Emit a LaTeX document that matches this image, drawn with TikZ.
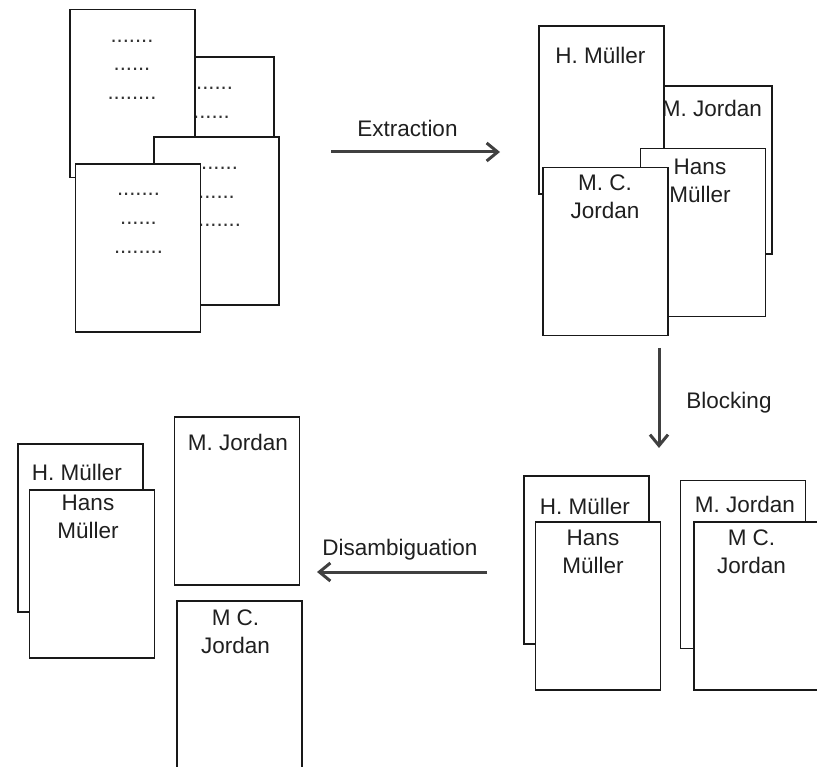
\documentclass[tikz,border=0pt]{standalone}
\usepackage{fontspec}
\setmainfont{Liberation Sans}
\usetikzlibrary{arrows.meta}
\usetikzlibrary{positioning}

\tikzset{
  page/.style={draw=black!90, line width=1.4pt, fill=white, minimum width=125pt, minimum height=168pt, inner sep=0pt, outer sep=0pt},
  txt/.style={font=\fontsize{22.5}{28}\selectfont, text=black!88, inner sep=0pt, anchor=base, align=center},
  dotrow/.style={font=\fontsize{22}{28}\selectfont, text=black!80, inner sep=0pt, anchor=base},
  flow/.style={draw=black!75, line width=3pt, -{Straight Barb[length=11pt,width=18pt]}},
}

\begin{document}
\begin{tikzpicture}[x=1pt, y=-1pt]
    \useasboundingbox (0,0) rectangle (817,767);
    \clip (0,0) rectangle (817,767);

    % raw documents
    \node[page] (rawB) at (211.5,141) {};
    \node[dotrow] (rawB1) at (211.5,90) {.......};
    \node[dotrow] (rawB2) at (211.5,118.5) {......};
    \node[page] (rawA) at (132.5,93.5) {};
    \node[dotrow] (rawA1) at (132,42.5) {.......};
    \node[dotrow] (rawA2) at (132,71) {......};
    \node[dotrow] (rawA3) at (132,99.5) {........};
    \node[page] (rawC) at (216.5,221) {};
    \node[dotrow] (rawC1) at (216.5,170) {.......};
    \node[dotrow] (rawC2) at (216.5,198.5) {......};
    \node[dotrow] (rawC3) at (216.5,227) {........};
    \node[page] (rawD) at (138,248) {};
    \node[dotrow] (rawD1) at (138.5,196) {.......};
    \node[dotrow] (rawD2) at (138.5,224.5) {......};
    \node[dotrow] (rawD3) at (138.5,253.5) {........};

    % extracted names
    \node[page] (extMJ) at (709.5,170) {};
    \node[txt] (extMJt) at (712,117) {M. Jordan};
    \node[page] (extHM) at (601.5,110) {};
    \node[txt] (extHMt) at (600.5,64) {H. Müller};
    \node[page] (extHans) at (703,232.5) {};
    \node[txt] (extHanst) at (700,203) {Hans\\Müller};
    \node[page] (extMCJ) at (605.5,251.5) {};
    \node[txt] (extMCJt) at (605,218.5) {M. C.\\Jordan};

    % blocks
    \node[page] (blkHM) at (586.5,560) {};
    \node[txt] (blkHMt) at (585,514) {H. Müller};
    \node[page] (blkHans) at (598,606) {};
    \node[txt] (blkHanst) at (593,573) {Hans\\Müller};
    \node[page] (blkMJ) at (743,564.5) {};
    \node[txt] (blkMJt) at (745,512) {M. Jordan};
    \node[page] (blkMCJ) at (756.5,606) {};
    \node[txt] (blkMCJt) at (751.5,573) {M C.\\Jordan};

    % disambiguated
    \node[page] (disHM) at (80.5,528) {};
    \node[txt] (disHMt) at (77,480) {H. Müller};
    \node[page] (disHans) at (92,574) {};
    \node[txt] (disHanst) at (88,538) {Hans\\Müller};
    \node[page] (disMJ) at (237,501) {};
    \node[txt] (disMJt) at (238,450) {M. Jordan};
    \node[page] (disMCJ) at (239.5,685) {};
    \node[txt] (disMCJt) at (235.5,653) {M C.\\Jordan};

    % steps
    \coordinate (extS) at (331,152);
    \coordinate (extE) at (500,152);
    \coordinate (blkS) at (659,348);
    \coordinate (blkE) at (659,448);
    \coordinate (disS) at (487,572);
    \coordinate (disE) at (317,572);
    \draw[flow] (extS) -- (extE);
    \draw[flow] (blkS) -- (blkE);
    \draw[flow] (disS) -- (disE);
    \node[txt] (extL) at (407.5,137) {Extraction};
    \node[txt] (blkL) at (729,408) {Blocking};
    \node[txt] (disL) at (400,555) {Disambiguation};
\end{tikzpicture}
\end{document}
